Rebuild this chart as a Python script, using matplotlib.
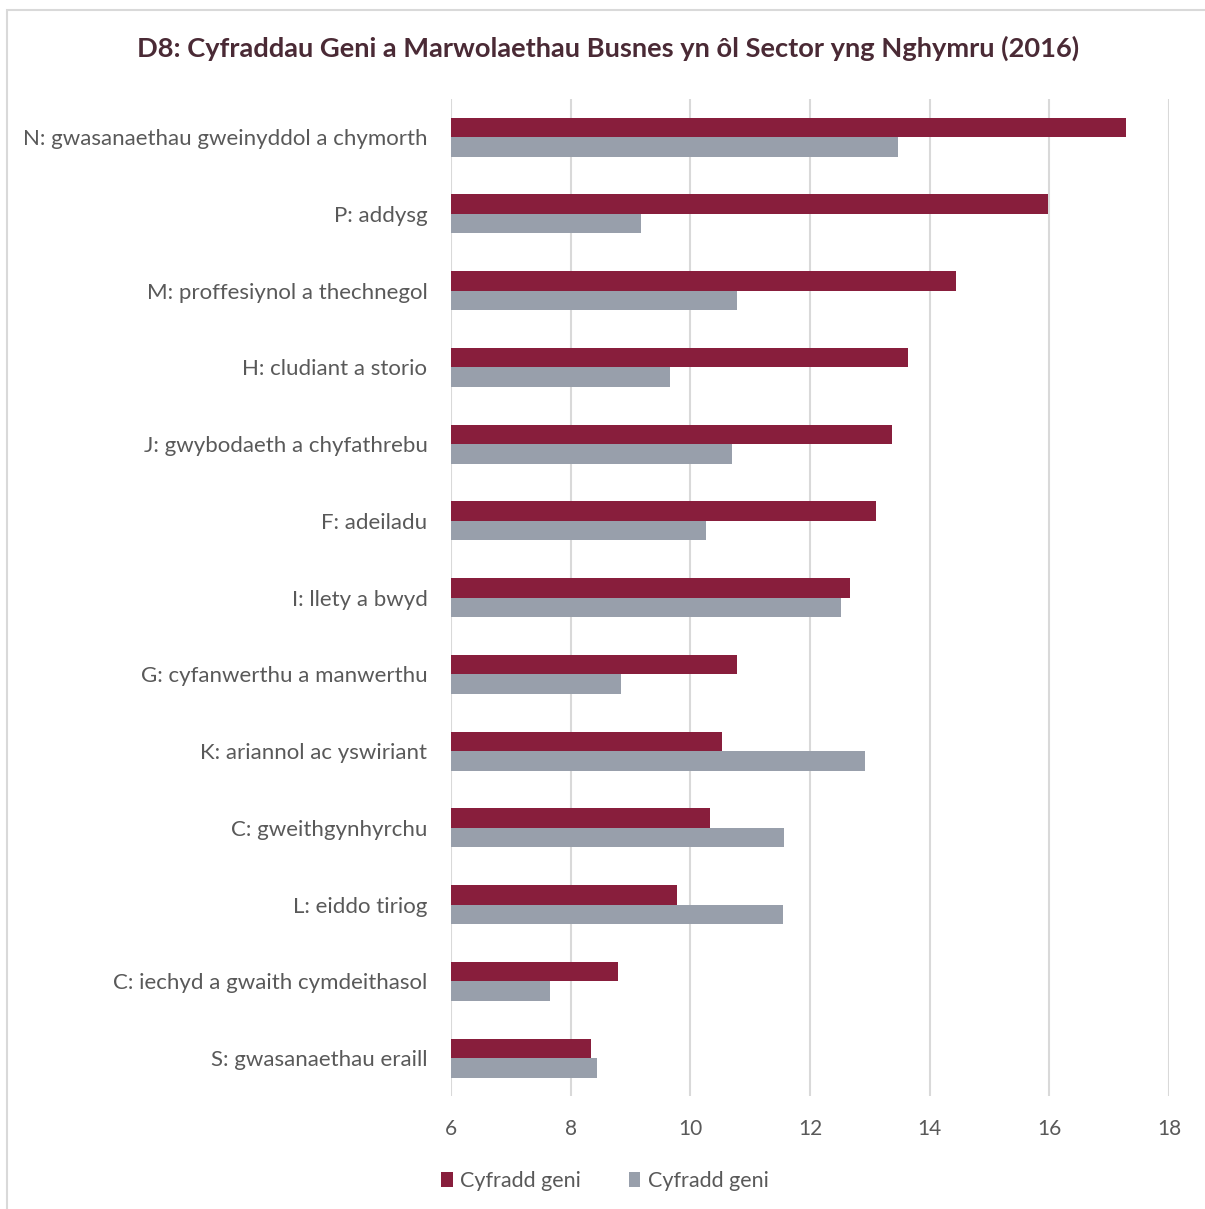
import matplotlib.pyplot as plt
from matplotlib.patches import Rectangle

plt.rcParams['font.family'] = ['Lato', 'DejaVu Sans']

sectors = [
    "N: gwasanaethau gweinyddol a chymorth",
    "P: addysg",
    "M: proffesiynol a thechnegol",
    "H: cludiant a storio",
    "J: gwybodaeth a chyfathrebu",
    "F: adeiladu",
    "I: llety a bwyd",
    "G: cyfanwerthu a manwerthu",
    "K: ariannol ac yswiriant",
    "C: gweithgynhyrchu",
    "L: eiddo tiriog",
    "C: iechyd a gwaith cymdeithasol",
    "S: gwasanaethau eraill",
]
birth_rate = [17.28, 15.98, 14.44, 13.64, 13.37, 13.10, 12.67, 10.78, 10.53, 10.33, 9.78, 8.79, 8.34]
death_rate = [13.47, 9.18, 10.78, 9.66, 10.70, 10.26, 12.52, 8.84, 12.92, 11.57, 11.55, 7.65, 8.44]
xticks = [6, 8, 10, 12, 14, 16, 18]

red = "#881E3C"
grey = "#989FAB"
txt = "#595959"

fig = plt.figure(figsize=(12.05, 12.09), dpi=100)
ax = fig.add_axes([0.3743, 0.0931, 0.5959, 0.8253])

# outer chart border
fig.patches.append(Rectangle((0.006, -0.01), 1.1, 1.0017, transform=fig.transFigure,
                             fill=False, edgecolor="#D9D9D9", linewidth=1.5))

pos = list(range(len(sectors)))
h = 0.254
ax.barh([p - h / 2 for p in pos], [b - 6 for b in birth_rate], left=6, height=h,
        color=red, label="Cyfradd geni", zorder=3)
ax.barh([p + h / 2 for p in pos], [d - 6 for d in death_rate], left=6, height=h,
        color=grey, label="Cyfradd geni", zorder=3)

ax.set_xlim(6, 18)
ax.set_ylim(len(sectors) - 0.5, -0.5)
ax.set_xticks(xticks)
ax.set_yticks(pos)
ax.set_yticklabels(sectors)
ax.tick_params(axis="both", length=0, labelsize=15, colors=txt)
ax.tick_params(axis="y", labelsize=16, pad=17)
ax.tick_params(axis="x", pad=16)
ax.grid(axis="x", color="#D9D9D9", linewidth=1.5, zorder=0)
for s in ax.spines.values():
    s.set_visible(False)

fig.text(0.505, 0.960, "D8: Cyfraddau Geni a Marwolaethau Busnes yn ôl Sector yng Nghymru (2016)",
         ha="center", va="center", fontsize=19.6, fontweight="bold", color="#4A2A35")

leg = fig.legend(loc="center", bbox_to_anchor=(0.502, 0.023), ncol=2, frameon=False,
                 fontsize=15.5, handlelength=0.55, handleheight=0.7, handletextpad=0.35,
                 columnspacing=2.2)
for t in leg.get_texts():
    t.set_color(txt)

fig.savefig("out.png", dpi=100)
